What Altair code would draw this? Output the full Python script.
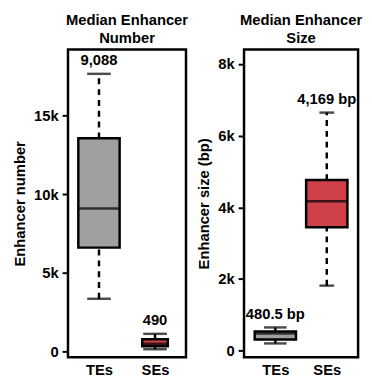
import altair as alt
import pandas as pd

cats = ["TEs", "SEs"]

# Panel 1: enhancer number
num_lo = [3350, 140]
num_q1 = [6600, 330]
num_med = [9088, 490]
num_q3 = [13550, 780]
num_hi = [17650, 1120]
num_labels = ["9,088", "490"]

# Panel 2: enhancer size (bp)
size_lo = [206, 1817]
size_q1 = [313, 3445]
size_med = [480.5, 4169]
size_q3 = [540, 4760]
size_hi = [652, 6640]
size_labels = ["480.5 bp", "4,169 bp"]

colors = ["#a0a0a0", "#cf4048"]
FONT = "Liberation Sans"


def panel(lo, q1, med, q3, hi, labels, title, ytitle, domain, ticks, xpad,
          box_w, cap_w, w, h):
    df = pd.DataFrame({"cat": cats, "lo": lo, "q1": q1, "med": med,
                       "q3": q3, "hi": hi, "label": labels})
    base = alt.Chart(df)
    x = alt.X("cat:N", sort=cats,
              scale=alt.Scale(type="point", padding=xpad),
              axis=alt.Axis(title=None, labelAngle=0, ticks=False, domain=False,
                            labelFontSize=15, labelFontWeight="bold",
                            labelFont=FONT, labelColor="black", labelPadding=6))
    yscale = alt.Scale(domain=domain, nice=False, zero=False)
    yaxis = alt.Axis(title=ytitle, values=ticks,
                     labelExpr="datum.value == 0 ? '0' : (datum.value / 1000) + 'k'",
                     grid=False, domain=False, tickSize=6, tickWidth=2,
                     tickColor="black",
                     labelFontSize=15, labelFontWeight="bold", labelFont=FONT,
                     labelColor="black", labelPadding=4,
                     titleFontSize=15, titleFontWeight="bold", titleFont=FONT,
                     titleColor="black", titlePadding=6)
    box_size = alt.condition("datum.cat == 'SEs'", alt.value(box_w[1]), alt.value(box_w[0]))
    cap_size = alt.condition("datum.cat == 'SEs'", alt.value(cap_w[1]), alt.value(cap_w[0]))

    whisk_up = base.mark_rule(color="black", strokeWidth=2.5, strokeDash=[6, 5]).encode(
        x=x, y=alt.Y("q3:Q", scale=yscale, axis=yaxis), y2="hi:Q")
    whisk_dn = base.mark_rule(color="black", strokeWidth=2.5, strokeDash=[6, 5]).encode(
        x=x, y=alt.Y("lo:Q", scale=yscale), y2="q1:Q")
    cap_hi = base.mark_tick(color="black", thickness=2.5).encode(
        x=x, y=alt.Y("hi:Q", scale=yscale), size=cap_size)
    cap_lo = base.mark_tick(color="black", thickness=2.5).encode(
        x=x, y=alt.Y("lo:Q", scale=yscale), size=cap_size)
    box = base.mark_bar(stroke="black", strokeWidth=2.5).encode(
        x=x, y=alt.Y("q1:Q", scale=yscale), y2="q3:Q",
        fill=alt.Fill("cat:N", scale=alt.Scale(domain=cats, range=colors), legend=None),
        size=box_size)
    med_t = base.mark_tick(color="black", thickness=2.5).encode(
        x=x, y=alt.Y("med:Q", scale=yscale), size=box_size)
    txt = base.mark_text(baseline="bottom", dy=-6, fontSize=15, fontWeight="bold",
                         font=FONT, color="black").encode(
        x=x, y=alt.Y("hi:Q", scale=yscale), text="label:N")

    return alt.layer(whisk_up, whisk_dn, cap_hi, cap_lo, box, med_t, txt).properties(
        width=w, height=h,
        title=alt.TitleParams(title, fontSize=15, fontWeight="bold", font=FONT,
                              color="black", anchor="middle", frame="group",
                              offset=4, lineHeight=18))


left = panel(num_lo, num_q1, num_med, num_q3, num_hi, num_labels,
             ["Median Enhancer", "Number"], "Enhancer number",
             [-370, 19200], [0, 5000, 10000, 15000], 0.553,
             [42, 26], [24, 24], 120, 313)
right = panel(size_lo, size_q1, size_med, size_q3, size_hi, size_labels,
              ["Median Enhancer", "Size"], "Enhancer size (bp)",
              [-180, 8400], [0, 2000, 4000, 6000, 8000], 0.609,
              [42, 42], [23, 15], 116, 313)

chart = alt.hconcat(left, right, spacing=6).properties(
    padding={"left": 3, "top": 0, "right": 0, "bottom": 0},
    background="white"
).configure_view(stroke="black", strokeWidth=2.5)

chart.save("out.html", embed_options={"renderer": "svg", "actions": False})
